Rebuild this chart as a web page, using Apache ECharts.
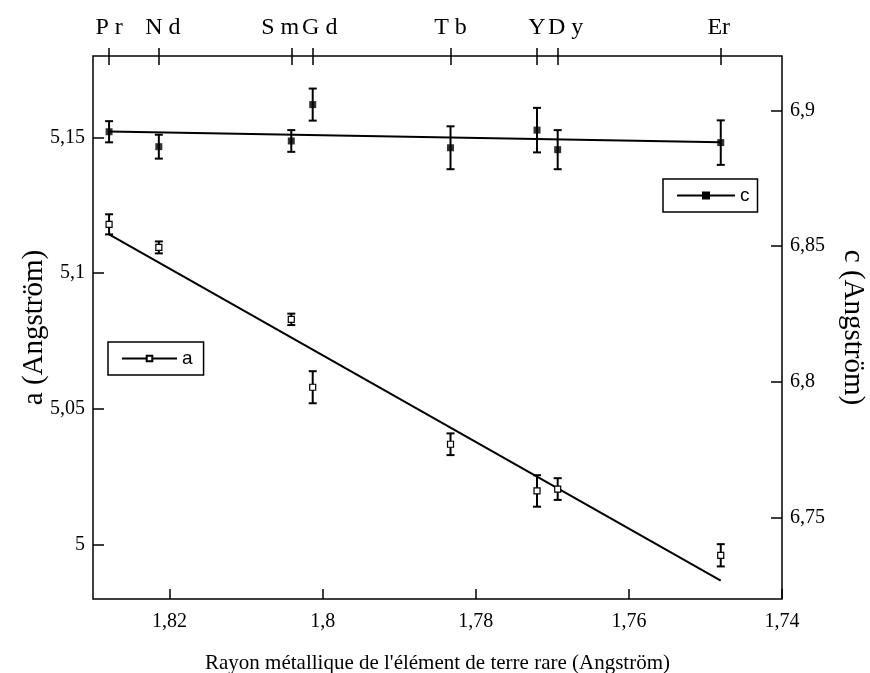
<!DOCTYPE html>
<html>
<head>
<meta charset="utf-8">
<script src="https://cdn.jsdelivr.net/npm/echarts@6/dist/echarts.min.js"></script>
<style>html,body{margin:0;padding:0;background:#fff;}#chart{width:870px;height:673px;}</style>
</head>
<body>
<div id="chart"></div>
<script>
// ---- data ----
const elements = ['Pr', 'Nd', 'Sm', 'Gd', 'Tb', 'Y', 'Dy', 'Er'];
const topLabels = ['P r', 'N d', 'S m', 'G d', 'T b', 'Y', 'D y', 'Er'];
const radii = [1.8279, 1.8214, 1.8041, 1.8013, 1.7833, 1.7720, 1.7693, 1.7480];
const aValues = [5.118, 5.1095, 5.083, 5.058, 5.037, 5.0198, 5.0205, 4.9961];
const aErrors = [0.0037, 0.0022, 0.0021, 0.0059, 0.0040, 0.0058, 0.0040, 0.0041];
const cValues = [6.8921, 6.8866, 6.8887, 6.9021, 6.8862, 6.8927, 6.8855, 6.8881];
const cErrors = [0.0039, 0.0044, 0.0040, 0.0059, 0.0079, 0.0082, 0.0072, 0.0082];
const aFit = [[1.8279, 5.1143], [1.7480, 4.9868]];
const cFit = [[1.8279, 6.8922], [1.7480, 6.8882]];
const xTicks = [1.74, 1.76, 1.78, 1.80, 1.82];
const aTicks = [5, 5.05, 5.1, 5.15];
const cTicks = [6.75, 6.8, 6.85, 6.9];

// ---- layout / style ----
const SERIF = '"Liberation Serif", "Times New Roman", serif';
const SANS = '"Liberation Sans", Arial, sans-serif';
const labelShift = { 'Pr': 0, 'Nd': 4, 'Sm': -11, 'Gd': 7, 'Tb': 0, 'Y': 0, 'Dy': 8, 'Er': -2 };
const comma = v => String(+(+v).toFixed(3)).replace('.', ',');

const richTop = {};
elements.forEach(e => {
  const s = labelShift[e];
  richTop[e] = {
    fontFamily: SERIF, fontSize: 24, color: '#000',
    padding: s >= 0 ? [0, 0, 0, 2 * s] : [0, -2 * s, 0, 0]
  };
});

function errBars(vals, errs) {
  return radii.map((r, i) => [r, vals[i] - errs[i], vals[i] + errs[i]]);
}
function renderErr(params, api) {
  const x = api.value(0);
  const p1 = api.coord([x, api.value(2)]);
  const p2 = api.coord([x, api.value(1)]);
  const hw = 4;
  const st = { stroke: '#000', lineWidth: 2 };
  return {
    type: 'group', children: [
      { type: 'line', shape: { x1: p1[0], y1: p1[1], x2: p2[0], y2: p2[1] }, style: st },
      { type: 'line', shape: { x1: p1[0] - hw, y1: p1[1], x2: p1[0] + hw, y2: p1[1] }, style: st },
      { type: 'line', shape: { x1: p2[0] - hw, y1: p2[1], x2: p2[0] + hw, y2: p2[1] }, style: st }
    ]
  };
}

const chart = echarts.init(document.getElementById('chart'), null, { renderer: 'canvas' });
const option = {
  backgroundColor: '#fff',
  animation: false,
  grid: {
    left: 93, right: 88, top: 56, bottom: 74, show: true, containLabel: false,
    outerBoundsMode: 'none',
    borderColor: '#000', borderWidth: 1.5, backgroundColor: 'transparent'
  },
  xAxis: [
    {
      type: 'value', position: 'bottom', min: 1.74, max: 1.83, inverse: true,
      name: "Rayon métallique de l'élément de terre rare (Angström)",
      nameLocation: 'middle', nameGap: 54, nameMoveOverlap: false,
      nameTextStyle: { fontFamily: SERIF, fontSize: 21, color: '#000' },
      axisLine: { show: false },
      axisTick: { inside: true, length: 10, lineStyle: { color: '#000', width: 1.5 }, customValues: xTicks },
      axisLabel: { fontFamily: SERIF, fontSize: 20, color: '#000', margin: 13, customValues: xTicks, formatter: comma },
      splitLine: { show: false }
    },
    {
      type: 'value', position: 'top', min: 1.74, max: 1.83, inverse: true, offset: -9,
      axisLine: { show: false },
      axisTick: { inside: false, length: 17, lineStyle: { color: '#000', width: 1.5 }, customValues: radii },
      axisLabel: {
        customValues: radii, margin: 25,
        formatter: v => {
          let k = 0, best = 1e9;
          radii.forEach((r, i) => { const d = Math.abs(r - v); if (d < best) { best = d; k = i; } });
          return '{' + elements[k] + '|' + topLabels[k] + '}';
        },
        rich: richTop
      },
      splitLine: { show: false }
    }
  ],
  yAxis: [
    {
      type: 'value', position: 'left', min: 4.98, max: 5.18,
      name: 'a (Angström)', nameLocation: 'middle', nameGap: 44, nameRotate: 90, nameMoveOverlap: false,
      nameTextStyle: { fontFamily: SERIF, fontSize: 29, color: '#000' },
      axisLine: { show: false },
      axisTick: { inside: true, length: 11, lineStyle: { color: '#000', width: 1.5 }, customValues: aTicks },
      axisLabel: { fontFamily: SERIF, fontSize: 20, color: '#000', margin: 8, customValues: aTicks, formatter: comma },
      splitLine: { show: false }
    },
    {
      type: 'value', position: 'right', min: 6.72, max: 6.92,
      name: 'c (Angström)', nameLocation: 'middle', nameGap: 56, nameRotate: -90, nameMoveOverlap: false,
      nameTextStyle: { fontFamily: SERIF, fontSize: 29, color: '#000' },
      axisLine: { show: false },
      axisTick: { inside: true, length: 11, lineStyle: { color: '#000', width: 1.5 }, customValues: cTicks },
      axisLabel: { fontFamily: SERIF, fontSize: 20, color: '#000', margin: 8, customValues: cTicks, formatter: comma },
      splitLine: { show: false }
    }
  ],
  legend: [
    {
      data: ['c'], left: 663, top: 179, orient: 'horizontal', selectedMode: false,
      padding: [7, 8, 7, 13], itemWidth: 58, itemHeight: 10,
      borderColor: '#000', borderWidth: 1.5, backgroundColor: '#fff',
      textStyle: { fontFamily: SANS, fontSize: 19, color: '#000' }
    },
    {
      data: ['a'], left: 108, top: 342, orient: 'horizontal', selectedMode: false,
      padding: [7, 11, 7, 13], itemWidth: 55, itemHeight: 7,
      borderColor: '#000', borderWidth: 1.5, backgroundColor: '#fff',
      textStyle: { fontFamily: SANS, fontSize: 19, color: '#000' }
    }
  ],
  series: [
    {
      name: 'c', type: 'line', xAxisIndex: 0, yAxisIndex: 1, data: cFit,
      symbol: 'rect', symbolSize: 8, showSymbol: false,
      lineStyle: { color: '#000', width: 2 }, itemStyle: { color: '#000' }, z: 3
    },
    {
      name: 'a', type: 'line', xAxisIndex: 0, yAxisIndex: 0, data: aFit,
      symbol: 'rect', symbolSize: 6, showSymbol: false,
      lineStyle: { color: '#000', width: 2 }, itemStyle: { color: '#fff', borderColor: '#000', borderWidth: 1.2 }, z: 3
    },
    {
      name: 'c-err', type: 'custom', xAxisIndex: 0, yAxisIndex: 1,
      data: errBars(cValues, cErrors), renderItem: renderErr, z: 4, silent: true
    },
    {
      name: 'a-err', type: 'custom', xAxisIndex: 0, yAxisIndex: 0,
      data: errBars(aValues, aErrors), renderItem: renderErr, z: 4, silent: true
    },
    {
      name: 'c-pts', type: 'scatter', xAxisIndex: 0, yAxisIndex: 1,
      data: radii.map((r, i) => [r, cValues[i]]),
      symbol: 'rect', symbolSize: 7, itemStyle: { color: '#000' }, z: 5
    },
    {
      name: 'a-pts', type: 'scatter', xAxisIndex: 0, yAxisIndex: 0,
      data: radii.map((r, i) => [r, aValues[i]]),
      symbol: 'rect', symbolSize: 6, itemStyle: { color: '#fff', borderColor: '#000', borderWidth: 1.2, opacity: 1 }, z: 5
    }
  ]
};
chart.setOption(option);
</script>
</body>
</html>
